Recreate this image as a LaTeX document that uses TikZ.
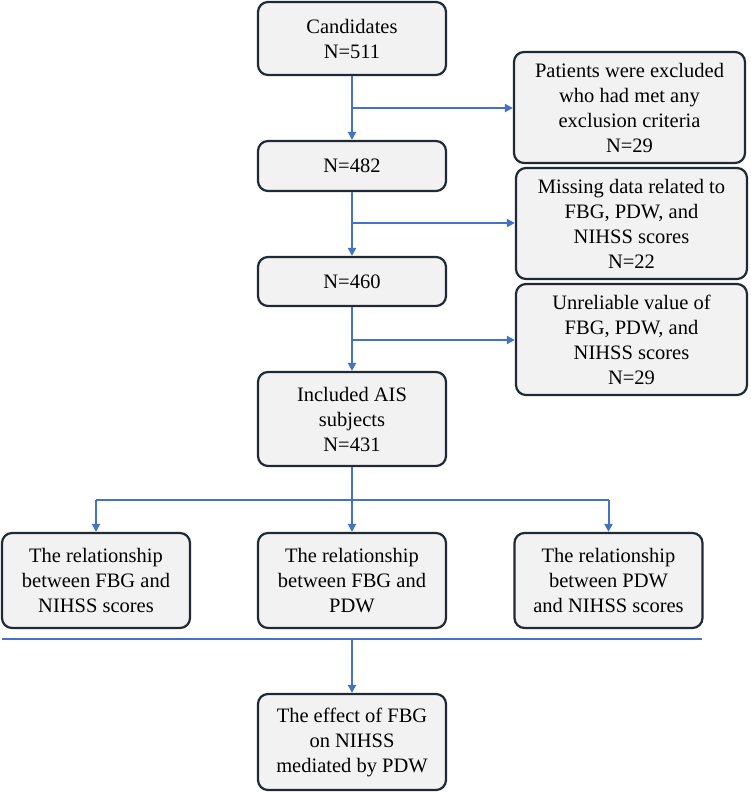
\documentclass[tikz,border=0pt]{standalone}
\usepackage{fontspec}
\setmainfont{Liberation Serif}
\usetikzlibrary{arrows.meta}
\definecolor{lineblue}{HTML}{4472C4}
\definecolor{boxgray}{HTML}{F2F2F2}
\definecolor{boxedge}{HTML}{1F2A36}
\begin{document}
\begin{tikzpicture}[x=1pt,y=-1pt,
    main/.style = {draw=boxedge, fill=boxgray, rounded corners=10pt, line width=2.2pt, align=center, font=\fontsize{20.5}{25}\selectfont, inner sep=2pt},
    link/.style = {draw=lineblue, line width=2pt, -{Triangle[length=8pt,width=8pt]}},
    plain/.style = {draw=lineblue, line width=2pt}]

    \useasboundingbox (0,0) rectangle (750,792);

    % Nodes
    \node[main, minimum width=188pt, minimum height=73pt] (1) at (352,38.5) {Candidates\\N=511};
    \node[main, minimum width=188pt, minimum height=50pt] (2) at (352,166) {N=482};
    \node[main, minimum width=188pt, minimum height=49pt] (3) at (352,281.5) {N=460};
    \node[main, minimum width=188pt, minimum height=94pt] (4) at (352,419) {Included AIS\\subjects\\N=431};
    \node[main, minimum width=231pt, minimum height=111pt] (5) at (629.5,107.5) {Patients were excluded\\who had met any\\exclusion criteria\\N=29};
    \node[main, minimum width=231pt, minimum height=111pt] (6) at (631.5,223.5) {Missing data related to\\FBG, PDW, and\\NIHSS scores\\N=22};
    \node[main, minimum width=231pt, minimum height=111pt] (7) at (631.5,339.5) {Unreliable value of\\FBG, PDW, and\\NIHSS scores\\N=29};
    \node[main, minimum width=188pt, minimum height=95pt] (8) at (96,580.5) {The relationship\\between FBG and\\NIHSS scores};
    \node[main, minimum width=188pt, minimum height=95pt] (9) at (352,580.5) {The relationship\\between FBG and\\PDW};
    \node[main, minimum width=188pt, minimum height=95pt] (10) at (608.5,580.5) {The relationship\\between PDW\\and NIHSS scores};
    \node[main, minimum width=188pt, minimum height=96pt] (11) at (352,742) {The effect of FBG\\on NIHSS\\mediated by PDW};

    \coordinate (a) at (352,108);
    \coordinate (b) at (352,223);
    \coordinate (c) at (352,340);
    \coordinate (d) at (352,500);
    \coordinate (l) at (96,500);
    \coordinate (r) at (608.5,500);
    \coordinate (sl) at (2,639);
    \coordinate (sr) at (702,639);
    \coordinate (s) at (352,639);

    % Edges
    \draw[link] (1) -- (2);
    \draw[link] (2) -- (3);
    \draw[link] (3) -- (4);
    \draw[link] (a) -- (5.west |- a);
    \draw[link] (b) -- (6.west |- b);
    \draw[link] (c) -- (7.west |- c);
    \draw[plain] (4) -- (d);
    \draw[plain] (l) -- (r);
    \draw[link] (l) -- (8);
    \draw[link] (d) -- (9);
    \draw[link] (r) -- (10);
    \draw[plain] (sl) -- (sr);
    \draw[link] (s) -- (11);

\end{tikzpicture}
\end{document}
